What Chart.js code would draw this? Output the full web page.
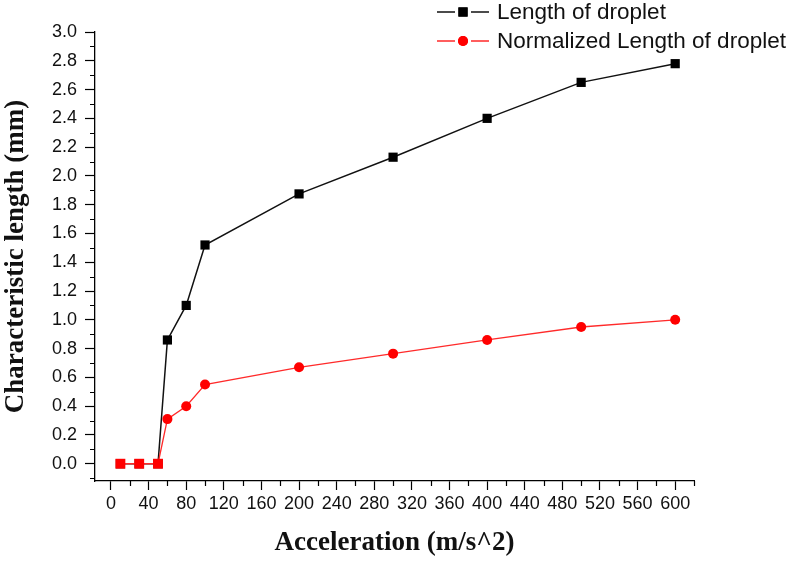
<!DOCTYPE html>
<html>
<head>
<meta charset="utf-8">
<script src="https://cdn.jsdelivr.net/npm/chart.js@4"></script>
<style>
  html, body { margin: 0; padding: 0; background: #fff; }
  #wrap { width: 797px; height: 561px; }
</style>
</head>
<body>
<div id="wrap"><canvas id="dropChart" width="797" height="561"></canvas></div>
<script>
// values
const accel = [10, 30, 50, 60, 80, 100, 200, 300, 400, 500, 600];
const lengthOfDroplet = [0, 0, 0, 0.86, 1.10, 1.52, 1.875, 2.13, 2.40, 2.65, 2.78];
const normLength = [0, 0, 0, 0.31, 0.40, 0.55, 0.67, 0.765, 0.86, 0.95, 1.0];
const normStyles = ['rect', 'rect', 'rect', 'circle', 'circle', 'circle', 'circle', 'circle', 'circle', 'circle', 'circle'];

const xTicks = [0, 40, 80, 120, 160, 200, 240, 280, 320, 360, 400, 440, 480, 520, 560, 600];
const yTicks = [0, 0.2, 0.4, 0.6, 0.8, 1.0, 1.2, 1.4, 1.6, 1.8, 2.0, 2.2, 2.4, 2.6, 2.8, 3.0];

const toPoints = vals => accel.map((a, i) => ({ x: a, y: vals[i] }));

// small outward minor ticks between the labelled ones
const minorTicks = {
    id: 'minorTicks',
    afterDraw(chart) {
        const { ctx, scales: { x, y } } = chart;
        ctx.save();
        ctx.strokeStyle = '#000';
        ctx.lineWidth = 1.2;
        ctx.beginPath();
        for (let v = -20; v <= 620; v += 40) {
            if (v < x.min || v > x.max) continue;
            const px = Math.round(x.getPixelForValue(v)) + 0.5;
            ctx.moveTo(px, y.bottom);
            ctx.lineTo(px, y.bottom + 5);
        }
        for (let k = -1; k <= 29; k += 2) {
            const v = k / 10;
            if (v < y.min || v > y.max) continue;
            const py = Math.round(y.getPixelForValue(v)) + 0.5;
            ctx.moveTo(x.left, py);
            ctx.lineTo(x.left - 5, py);
        }
        ctx.stroke();
        ctx.restore();
    }
};

// Origin-style legend: line - marker - line, then the label
const lineLegend = {
    id: 'lineLegend',
    afterDraw(chart) {
        const { ctx } = chart;
        const rows = [
            { ds: chart.data.datasets[1], style: 'rect', r: 6.5, y: 12 },
            { ds: chart.data.datasets[0], style: 'circle', r: 5, y: 41 }
        ];
        ctx.save();
        rows.forEach(row => {
            const x0 = 437, x1 = 489, xm = (x0 + x1) / 2;
            ctx.strokeStyle = row.ds.borderColor;
            ctx.lineWidth = 1.5;
            ctx.beginPath();
            ctx.moveTo(x0, row.y);
            ctx.lineTo(xm - 8, row.y);
            ctx.moveTo(xm + 8, row.y);
            ctx.lineTo(x1, row.y);
            ctx.stroke();
            ctx.fillStyle = row.ds.backgroundColor;
            Chart.helpers.drawPoint(ctx, { pointStyle: row.style, radius: row.r, borderWidth: 0 }, xm, row.y);
            ctx.fill();
            ctx.fillStyle = '#111';
            ctx.font = '22.5px "Liberation Sans", Arial, sans-serif';
            ctx.textBaseline = 'middle';
            ctx.textAlign = 'left';
            ctx.fillText(row.ds.label, 497, row.y + 1);
        });
        ctx.restore();
    }
};

new Chart(document.getElementById('dropChart'), {
    type: 'line',
    data: {
        datasets: [
            {
                label: 'Normalized Length of droplet',
                data: toPoints(normLength),
                borderColor: '#ff2a2a',
                backgroundColor: '#ff0000',
                borderWidth: 1.3,
                pointStyle: normStyles,
                pointRadius: [7, 7, 7, 5, 5, 5, 5, 5, 5, 5, 5],
                pointBorderWidth: 0,
                tension: 0
            },
            {
                label: 'Length of droplet',
                data: toPoints(lengthOfDroplet),
                borderColor: '#111',
                backgroundColor: '#000',
                borderWidth: 1.5,
                pointStyle: 'rect',
                pointRadius: 6.5,
                pointBorderWidth: 0,
                tension: 0
            }
        ]
    },
    options: {
        responsive: false,
        animation: false,
        layout: {
            padding: { left: 0, top: 32, right: 103, bottom: 0 }
        },
        plugins: {
            legend: { display: false },
            tooltip: { enabled: false }
        },
        scales: {
            x: {
                type: 'linear',
                min: -17,
                max: 620,
                afterBuildTicks: scale => {
                    scale.ticks = xTicks.map(v => ({ value: v }));
                },
                afterFit: scale => { scale.height = 80; },
                grid: {
                    drawOnChartArea: false,
                    drawTicks: true,
                    tickLength: 9,
                    tickColor: '#000',
                    tickWidth: 1.2
                },
                border: { color: '#000', width: 1.3 },
                ticks: {
                    autoSkip: false,
                    maxRotation: 0,
                    padding: 3,
                    color: '#111',
                    font: { family: '"Liberation Sans", Arial, sans-serif', size: 18 }
                },
                title: {
                    display: true,
                    text: 'Acceleration (m/s^2)',
                    color: '#111',
                    padding: { top: 0, bottom: 2 },
                    font: { family: '"Liberation Serif", "Times New Roman", serif', size: 27, weight: 'bold' }
                }
            },
            y: {
                min: -0.12,
                max: 3.0,
                afterBuildTicks: scale => {
                    scale.ticks = yTicks.map(v => ({ value: v }));
                },
                afterFit: scale => { scale.width = 95; },
                grid: {
                    drawOnChartArea: false,
                    drawTicks: true,
                    tickLength: 10,
                    tickColor: '#000',
                    tickWidth: 1.2
                },
                border: { color: '#000', width: 1.3 },
                ticks: {
                    padding: 8,
                    color: '#111',
                    callback: v => v.toFixed(1),
                    font: { family: '"Liberation Sans", Arial, sans-serif', size: 18 }
                },
                title: {
                    display: true,
                    text: 'Characteristic length (mm)',
                    color: '#111',
                    padding: { top: 0, bottom: 0 },
                    font: { family: '"Liberation Serif", "Times New Roman", serif', size: 27, weight: 'bold' }
                }
            }
        }
    },
    plugins: [minorTicks, lineLegend]
});
</script>
</body>
</html>
